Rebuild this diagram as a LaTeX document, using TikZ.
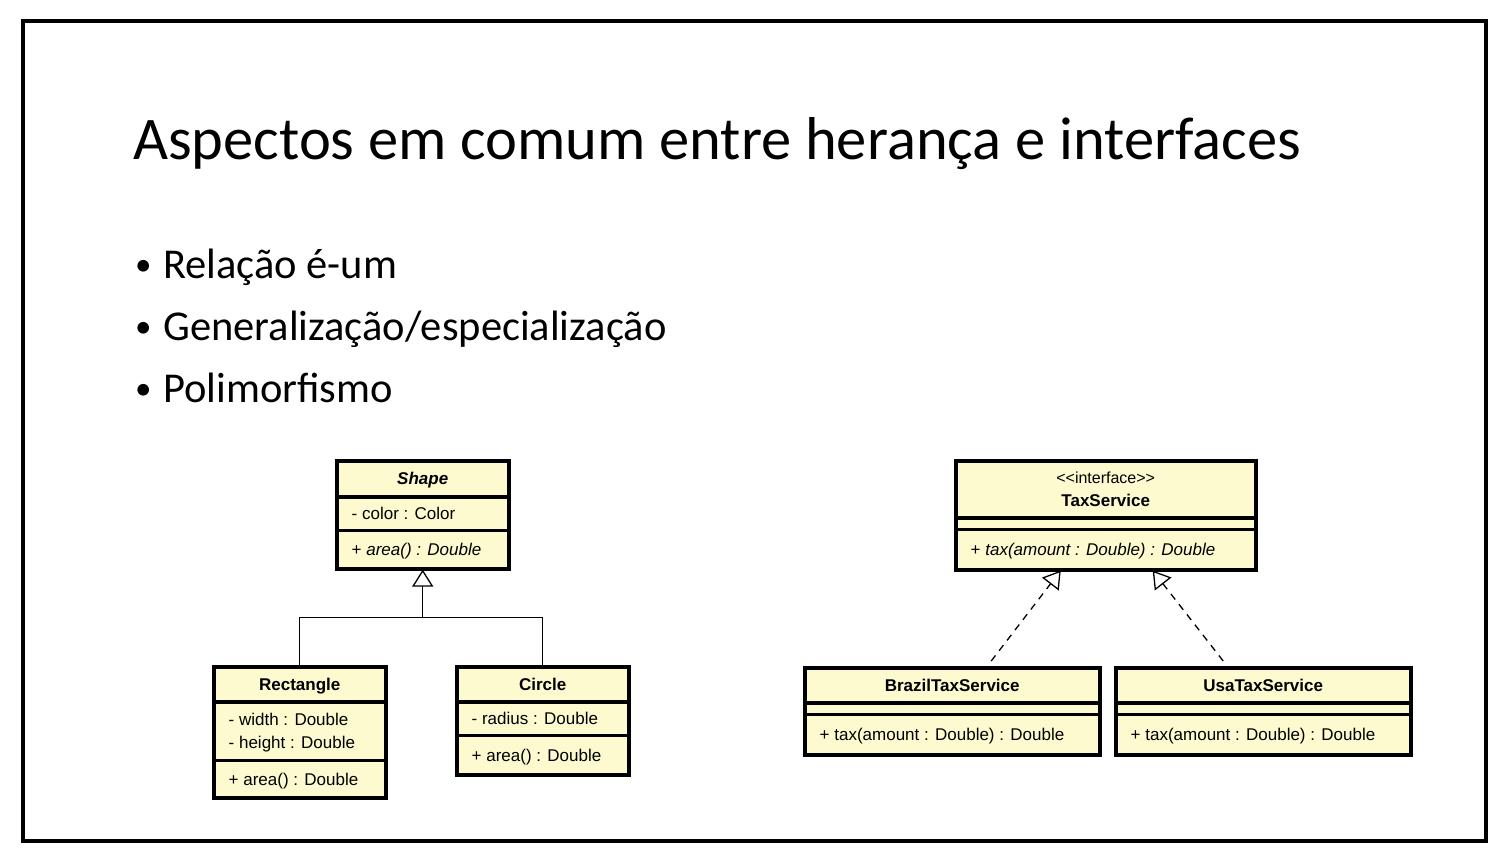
\documentclass[tikz,border=0pt]{standalone}
\usepackage{fontspec}
\setmainfont{Carlito}
\newfontfamily\umlfont{Liberation Sans}
\usetikzlibrary{shapes.multipart,arrows.meta,calc}
\definecolor{umlyellow}{RGB}{252,250,206}

% compartments of a class box: height, width, text
\newcommand{\umlline}[1]{\smash{#1}\rule[-0.1em]{0pt}{0.9em}}
\newcommand{\umlhead}[3]{\parbox[c][#1][c]{#2}{\centering #3}}
\newcommand{\umlrows}[3]{\parbox[c][#1][c]{#2}{\leftskip=15pt\relax #3}}
\newcommand{\dotmark}{\makebox[29pt][l]{\hspace*{1pt}\fontsize{33}{33}\selectfont\raisebox{3pt}{•}}}

\tikzset{
    umlclass/.style={rectangle split, rectangle split parts=3, draw, line width=1.4pt,
        fill=umlyellow, inner sep=0pt, anchor=north west,
        font=\umlfont\fontsize{17}{23}\selectfont,
        postaction={draw, line width=3.6pt}},
    bullet/.style={anchor=base west, inner sep=0pt, font=\fontsize{42.5}{46}\selectfont},
    inherit/.style={line width=1.3pt, -{Triangle[open, length=17pt, width=21pt]}},
    realize/.style={inherit, dash pattern=on 7pt off 6pt}
}

\begin{document}
\begin{tikzpicture}[x=1pt, y=-1pt]
    % Page and frame
    \fill[white] (0,0) rectangle (1502,864);
    \useasboundingbox (0,0) rectangle (1502,864);
    \draw[line width=4pt] (23,21) rectangle (1486,841);

    % Title
    \node[anchor=base west, inner sep=0pt, font=\fontsize{60.5}{66}\selectfont] (title) at (133,160)
        {Aspectos em comum entre herança e interfaces};

    % Bullets
    \node[bullet] (b1) at (134,278) {\dotmark Relação é-um};
    \node[bullet] (b2) at (134,340) {\dotmark Generalização/especialização};
    \node[bullet] (b3) at (134,402) {\dotmark Polimorfismo};

    % Class hierarchy
    \node[umlclass] (shape) at (336,460)
        {\umlhead{35pt}{172pt}{\umlline{\textbf{\textit{Shape}}}}
        \nodepart{two}\umlrows{32pt}{172pt}{\umlline{- color : Color}}
        \nodepart{three}\umlrows{37pt}{172pt}{\umlline{+ \textit{area() : Double}}}};
    \node[umlclass] (rect) at (213,666)
        {\umlhead{34pt}{172pt}{\umlline{\textbf{Rectangle}}}
        \nodepart{two}\umlrows{57pt}{172pt}{\umlline{- width : Double}\\\umlline{- height : Double}}
        \nodepart{three}\umlrows{36pt}{172pt}{\umlline{+ area() : Double}}};
    \node[umlclass] (circ) at (456,666)
        {\umlhead{34pt}{172pt}{\umlline{\textbf{Circle}}}
        \nodepart{two}\umlrows{32pt}{172pt}{\umlline{- radius : Double}}
        \nodepart{three}\umlrows{38pt}{172pt}{\umlline{+ area() : Double}}};

    \coordinate (join) at ($(shape.south)+(0,48)$);
    \draw[line width=1.3pt] (rect.north) |- (join) -| (circ.north);
    \draw[inherit] (join) -- (shape.south);

    % Interface and implementations
    \node[umlclass] (tax) at (955,460)
        {\umlhead{56pt}{300pt}{\umlline{\fontsize{16}{23}\selectfont <<interface>>}\\\umlline{\textbf{TaxService}}}
        \nodepart{two}\umlrows{10pt}{300pt}{}
        \nodepart{three}\umlrows{39pt}{300pt}{\umlline{+ \textit{tax(amount : Double) : Double}}}};
    \node[umlclass] (brazil) at (804,667)
        {\umlhead{34pt}{295pt}{\umlline{\textbf{BrazilTaxService}}}
        \nodepart{two}\umlrows{10pt}{295pt}{}
        \nodepart{three}\umlrows{39pt}{295pt}{\umlline{+ tax(amount : Double) : Double}}};
    \node[umlclass] (usa) at (1115,667)
        {\umlhead{34pt}{295pt}{\umlline{\textbf{UsaTaxService}}}
        \nodepart{two}\umlrows{10pt}{295pt}{}
        \nodepart{three}\umlrows{39pt}{295pt}{\umlline{+ tax(amount : Double) : Double}}};

    \draw[realize] ($(brazil.north)+(39,-6)$) -- ($(tax.south)+(-45,0)$);
    \draw[realize] ($(usa.north)+(-40,-6)$) -- ($(tax.south)+(47,0)$);
\end{tikzpicture}
\end{document}
